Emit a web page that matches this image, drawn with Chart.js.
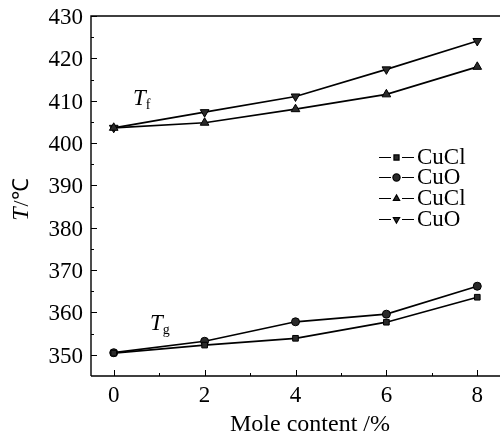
<!DOCTYPE html>
<html>
<head>
<meta charset="utf-8">
<script src="https://cdn.jsdelivr.net/npm/chart.js@4/dist/chart.umd.min.js"></script>
<style>
  html, body { margin: 0; padding: 0; background: #fff; overflow: hidden; }
  #wrap { width: 502px; height: 437px; overflow: hidden; }
  canvas { display: block; }
</style>
</head>
<body>
<div id="wrap"><canvas id="c" width="506" height="437"></canvas></div>
<script>
// Mole content of the additive (%)
const molContent = [0, 2, 4, 6, 8];

// Glass transition temperature T_g (°C)
const tgCuCl = [350.4, 352.3, 353.9, 357.7, 363.6];
const tgCuO  = [350.5, 353.2, 357.8, 359.6, 366.2];

// Crystallisation onset temperature T_f (°C)
const tfCuCl = [403.6, 404.8, 408.0, 411.5, 418.0];
const tfCuO  = [403.6, 407.3, 411.0, 417.4, 424.1];

const seriesNames = ['CuCl', 'CuO', 'CuCl', 'CuO'];

const xTicks = [0, 2, 4, 6, 8];
const xMinorTicks = [1, 3, 5, 7];
const yTicks = [350, 360, 370, 380, 390, 400, 410, 420, 430];
const yMinorTicks = [355, 365, 375, 385, 395, 405, 415, 425];

const xTitle = 'Mole content /%';
const SERIF = '"Liberation Serif", "Times New Roman", serif';

Chart.defaults.font.family = SERIF;
Chart.defaults.color = '#000';

const pts = arr => molContent.map((x, i) => ({ x, y: arr[i] }));

function series(label, data, style, rot, r) {
  return {
    label, data: pts(data),
    borderColor: '#000', borderWidth: 1.7,
    pointStyle: style, rotation: rot, pointRadius: r,
    pointBackgroundColor: '#2a2a2a', pointBorderColor: '#000', pointBorderWidth: 1,
    tension: 0, fill: false
  };
}

// Frame, inward tick marks, tick labels, axis titles, curve labels and legend
const decor = {
  id: 'decor',
  afterDraw(chart) {
    const { ctx, chartArea: a, scales: { x, y } } = chart;
    ctx.save();
    ctx.strokeStyle = '#000';
    ctx.lineWidth = 1.4;
    ctx.beginPath();
    ctx.moveTo(a.left, a.bottom); ctx.lineTo(a.right, a.bottom);
    ctx.moveTo(a.left, a.bottom); ctx.lineTo(a.left, a.top);
    ctx.lineTo(a.right, a.top);
    ctx.stroke();

    ctx.lineWidth = 1;
    ctx.beginPath();
    xTicks.forEach(v => { const px = Math.round(x.getPixelForValue(v)) + 0.5; ctx.moveTo(px, a.bottom); ctx.lineTo(px, a.bottom - 6); });
    xMinorTicks.forEach(v => { const px = Math.round(x.getPixelForValue(v)) + 0.5; ctx.moveTo(px, a.bottom); ctx.lineTo(px, a.bottom - 3); });
    yTicks.forEach(v => { const py = Math.round(y.getPixelForValue(v)) + 0.5; ctx.moveTo(a.left, py); ctx.lineTo(a.left + 6, py); });
    yMinorTicks.forEach(v => { const py = Math.round(y.getPixelForValue(v)) + 0.5; ctx.moveTo(a.left, py); ctx.lineTo(a.left + 3, py); });
    ctx.stroke();

    ctx.fillStyle = '#000';

    // tick labels
    ctx.font = '23px ' + SERIF;
    ctx.textBaseline = 'alphabetic';
    ctx.textAlign = 'center';
    xTicks.forEach(v => ctx.fillText(String(v), x.getPixelForValue(v), a.bottom + 26));
    ctx.textAlign = 'right';
    yTicks.forEach(v => ctx.fillText(String(v), a.left - 8, y.getPixelForValue(v) + 8));

    // x-axis title
    ctx.font = '24px ' + SERIF;
    ctx.textAlign = 'center';
    ctx.fillText(xTitle, 310, 431);

    // y-axis title: italic T, then /℃
    ctx.save();
    ctx.translate(28, 200);
    ctx.rotate(-Math.PI / 2);
    ctx.textAlign = 'left';
    ctx.font = 'italic 24px ' + SERIF;
    const wT = ctx.measureText('T').width;
    ctx.font = '22px ' + SERIF;
    const wR = ctx.measureText('/℃').width;
    const start = -(wT + wR) / 2;
    ctx.font = 'italic 24px ' + SERIF;
    ctx.fillText('T', start, 0);
    ctx.font = '22px ' + SERIF;
    ctx.fillText('/℃', start + wT + 1, 0);
    ctx.restore();

    // curve group labels
    const sub = (main, s, px, py) => {
      ctx.textAlign = 'left';
      ctx.font = 'italic 23px ' + SERIF;
      ctx.fillText(main, px, py);
      const w = ctx.measureText(main).width;
      ctx.font = '14px ' + SERIF;
      ctx.fillText(s, px + w, py + 4);
    };
    sub('T', 'f', 133, 105);
    sub('T', 'g', 150, 330);

    // legend
    const rows = [157, 177, 198, 219];
    chart.data.datasets.forEach((ds, i) => {
      const ly = rows[i];
      ctx.strokeStyle = '#000';
      ctx.lineWidth = 1.2;
      ctx.beginPath();
      ctx.moveTo(379, ly + 0.5); ctx.lineTo(391, ly + 0.5);
      ctx.moveTo(402, ly + 0.5); ctx.lineTo(414, ly + 0.5);
      ctx.stroke();
      ctx.fillStyle = '#2a2a2a';
      Chart.helpers.drawPoint(ctx, {
        pointStyle: ds.pointStyle, rotation: ds.rotation, radius: 3.6, borderWidth: 1
      }, 396.5, ly + 0.5);
      ctx.fillStyle = '#000';
      ctx.font = '23px ' + SERIF;
      ctx.textAlign = 'left';
      ctx.textBaseline = 'middle';
      ctx.fillText(seriesNames[i], 417, ly + 1);
      ctx.textBaseline = 'alphabetic';
    });
    ctx.restore();
  }
};

new Chart(document.getElementById('c'), {
  type: 'line',
  data: {
    datasets: [
      series(seriesNames[0], tgCuCl, 'rect', 0, 4),
      series(seriesNames[1], tgCuO, 'circle', 0, 4),
      series(seriesNames[2], tfCuCl, 'triangle', 0, 5),
      series(seriesNames[3], tfCuO, 'triangle', 180, 5)
    ]
  },
  options: {
    responsive: false,
    animation: false,
    layout: { padding: { top: 16, right: 2, left: 0, bottom: 0 } },
    plugins: { legend: { display: false }, tooltip: { enabled: false } },
    scales: {
      x: {
        type: 'linear', min: -0.5, max: 8.5,
        grid: { display: false, drawTicks: false },
        border: { display: false },
        afterBuildTicks: s => { s.ticks = xTicks.map(v => ({ value: v })); },
        afterFit: s => { s.height = 61; },
        ticks: { display: false }
      },
      y: {
        type: 'linear', min: 345, max: 430,
        grid: { display: false, drawTicks: false },
        border: { display: false },
        afterBuildTicks: s => { s.ticks = yTicks.map(v => ({ value: v })); },
        afterFit: s => { s.width = 91; },
        ticks: { display: false }
      }
    }
  },
  plugins: [decor]
});
</script>
</body>
</html>
